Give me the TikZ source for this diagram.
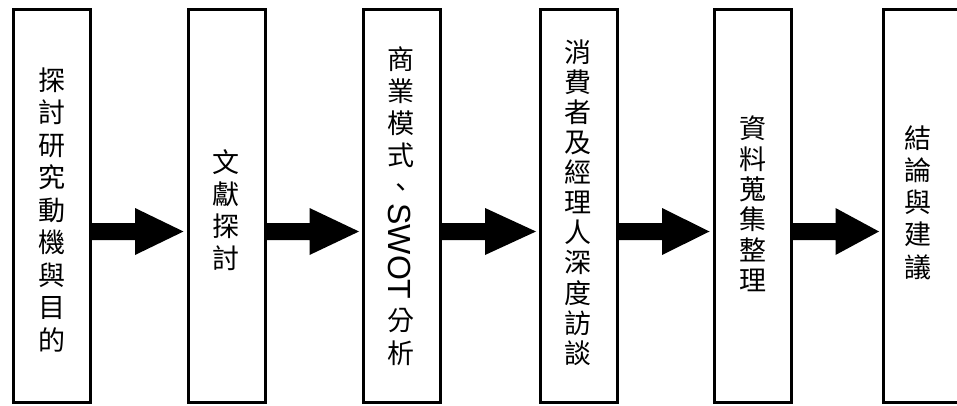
\documentclass[tikz,border=0pt]{standalone}
\usepackage{fontspec}
\usetikzlibrary{calc}
\newfontfamily\cjk{Noto Sans CJK TC}
\newfontfamily\latinsans{Liberation Sans}
\begin{document}
\begin{tikzpicture}[x=1pt,y=1pt,
  stagebox/.style={draw=black,line width=3pt,minimum width=77pt,minimum height=393pt,inner sep=0pt,fill=white},
  vtext/.style={align=center,inner sep=0pt,font=\fontsize{27}{#1}\cjk},
  vtext/.default=32.5
]
\useasboundingbox (0,0) rectangle (957,405);
\fill[white] (0,0) rectangle (957,405);
\begin{scope}
\clip (0,0) rectangle (957,405);
\node[stagebox] (b1) at (52,199) {};
\node[stagebox] (b2) at (226.5,199) {};
\node[stagebox] (b3) at (402,199) {};
\node[stagebox] (b4) at (579,199) {};
\node[stagebox] (b5) at (752.5,199) {};
\node[stagebox] (b6) at (922,199) {};
\end{scope}

\newcommand\blockarrow[2]{%
  \fill[black] let \p1=(#1.east), \p2=(#2.west) in
    (\x1,182pt) -- (\x1+43pt,182pt) -- (\x1+43pt,197pt) -- (\x2-3pt,173.5pt)
    -- (\x1+43pt,150pt) -- (\x1+43pt,165pt) -- (\x1,165pt) -- cycle;}
\blockarrow{b1}{b2}
\blockarrow{b2}{b3}
\blockarrow{b3}{b4}
\blockarrow{b4}{b5}
\blockarrow{b5}{b6}

\node[vtext=32.5] (t1) at (52,195) {探\\討\\研\\究\\動\\機\\與\\目\\的};
\node[vtext=32] (t2) at (226,195) {文\\獻\\探\\討};
\node[vtext=32] (t3a) at (401,282.5) {商\\業\\模\\式\\、};
\node[inner sep=0pt,font=\fontsize{32}{36}\latinsans,rotate=-90] (t3b) at (400,153.5) {SWOT};
\node[vtext=33] (t3c) at (401,68.5) {分\\析};
\node[vtext=30.1] (t4) at (578,202.5) {消\\費\\者\\及\\經\\理\\人\\深\\度\\訪\\談};
\node[vtext=30.4] (t5) at (753,201) {資\\料\\蒐\\集\\整\\理};
\node[vtext=32.3] (t6) at (918,202.5) {結\\論\\與\\建\\議};
\end{tikzpicture}
\end{document}
